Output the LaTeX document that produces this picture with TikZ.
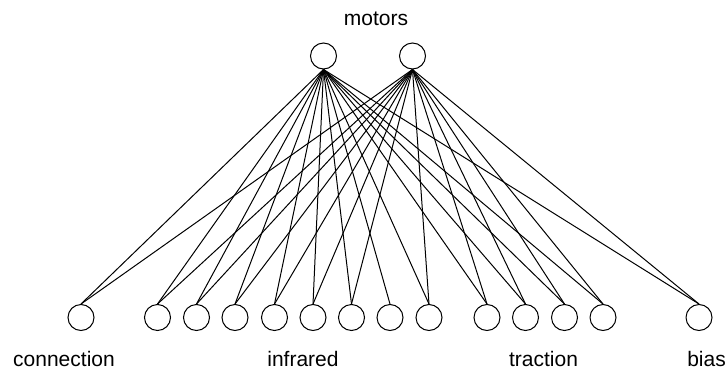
\documentclass[tikz,border=0pt]{standalone}
\usepackage{fontspec}
\setmainfont{Liberation Sans}
\begin{document}
\begin{tikzpicture}[x=1pt,y=-1pt,
  unit/.style={circle,draw,line width=1pt,minimum size=26pt,inner sep=0pt},
  lbl/.style={anchor=base,inner sep=0pt,font=\fontsize{21}{25}\selectfont},
  link/.style={line width=1pt}]
\useasboundingbox (0,0) rectangle (727,372);
\node[lbl] (mt) at (376,25) {motors};
\node[unit] (m1) at (323.5,56) {};
\node[unit] (m2) at (412.5,56) {};
\foreach \i/\x in {1/81,2/157.5,3/196.5,4/235,5/274.5,6/313,7/351.5,8/390,9/429,10/487,11/525.5,12/564.5,13/603,14/699}
  \node[unit] (b\i) at (\x,317.5) {};
\foreach \i in {1,...,14} \draw[link] (m1.south) -- (b\i.north);
\foreach \i in {1,2,3,4,5,6,7,9,10,11,12,13,14} \draw[link] (m2.south) -- (b\i.north);
\node[lbl] (l1) at (64,366) {connection};
\node[lbl] (l2) at (303,366) {infrared};
\node[lbl] (l3) at (543.5,366) {traction};
\node[lbl] (l4) at (706.5,366) {bias};
\end{tikzpicture}
\end{document}
